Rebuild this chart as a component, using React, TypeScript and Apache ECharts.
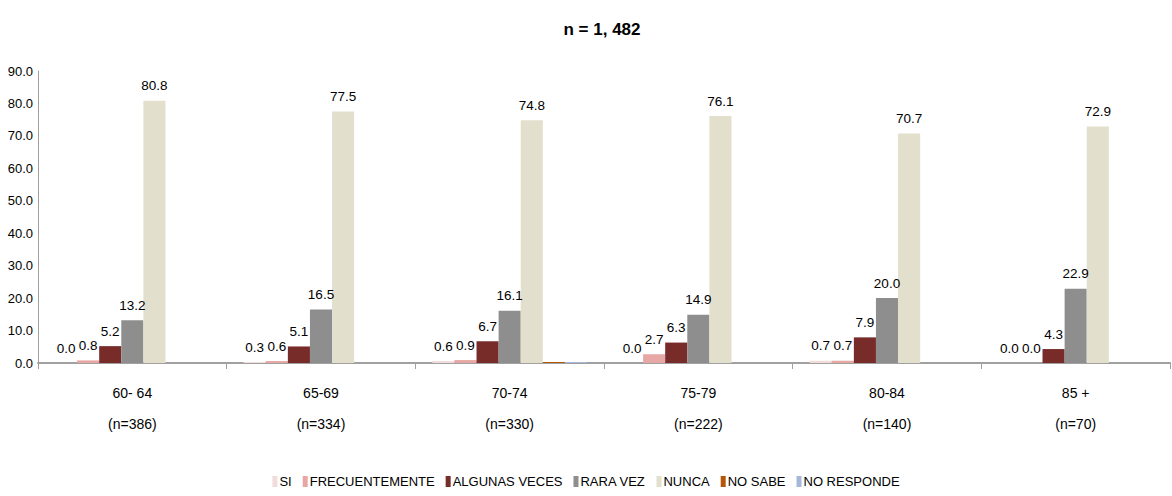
import React, { useEffect, useRef } from "react";
import * as echarts from "echarts";

const categories = ["60- 64\n(n=386)", "65-69\n(n=334)", "70-74\n(n=330)", "75-79\n(n=222)", "80-84\n(n=140)", "85 +\n(n=70)"];
const seriesNames = ["SI", "FRECUENTEMENTE", "ALGUNAS VECES", "RARA VEZ", "NUNCA", "NO SABE", "NO RESPONDE"];
const si = [0.0, 0.3, 0.6, 0.0, 0.7, 0.0];
const frecuentemente = [0.8, 0.6, 0.9, 2.7, 0.7, 0.0];
const algunasVeces = [5.2, 5.1, 6.7, 6.3, 7.9, 4.3];
const raraVez = [13.2, 16.5, 16.1, 14.9, 20.0, 22.9];
const nunca = [80.8, 77.5, 74.8, 76.1, 70.7, 72.9];
const noSabe = [0.0, 0.0, 0.3, 0.0, 0.0, 0.0];
const noResponde = [0.0, 0.0, 0.3, 0.0, 0.0, 0.0];
const seriesValues = [si, frecuentemente, algunasVeces, raraVez, nunca, noSabe, noResponde];
const colors = ["#F2DCDB", "#E6A7A5", "#772C2A", "#8E8E8E", "#E2DFCC", "#B65708", "#A5B8DA"];
const labeled = [true, true, true, true, true, false, false];

const FONT = "'Liberation Sans Narrow','Liberation Sans',Arial,sans-serif";

export default function App() {
  const ref = useRef<HTMLDivElement>(null);
  useEffect(() => {
    document.body.style.margin = "0";
    const chart = echarts.init(ref.current!, null, { renderer: "svg" });
    chart.setOption({
      animation: false,
      title: {
        text: "n = 1, 482",
        left: 597,
        top: 16,
        textAlign: "center",
        textStyle: { fontFamily: FONT, fontSize: 17, fontWeight: "bold", color: "#000" },
      },
      legend: {
        bottom: 3,
        left: "center",
        icon: "rect",
        itemWidth: 5,
        itemHeight: 11,
        itemGap: 11,
        textStyle: { fontFamily: FONT, fontSize: 13, color: "#000", padding: [0, 0, 0, -3] },
        data: seriesNames,
      },
      grid: { left: 38, right: 2, top: 71, bottom: 133, containLabel: false },
      xAxis: {
        type: "category",
        data: categories,
        axisLine: { lineStyle: { color: "#A0A0A0", width: 2 } },
        axisTick: { show: true, length: 6, lineStyle: { color: "#A0A0A0" } },
        axisLabel: { fontFamily: FONT, fontSize: 14, color: "#000", lineHeight: 31, margin: 14 },
      },
      yAxis: {
        type: "value",
        min: 0,
        max: 90,
        interval: 10,
        splitLine: { show: false },
        axisLine: { show: true, lineStyle: { color: "#A0A0A0", width: 1 } },
        axisTick: { show: false },
        axisLabel: {
          fontFamily: FONT,
          fontSize: 13,
          color: "#000",
          margin: 5,
          formatter: (v: number) => v.toFixed(1),
        },
      },
      series: seriesNames.map((name, i) => ({
        name,
        type: "bar",
        data: seriesValues[i],
        barGap: "0%",
        barCategoryGap: "18%",
        itemStyle: { color: colors[i] },
        label: {
          show: labeled[i],
          position: "top",
          distance: 8,
          fontFamily: FONT,
          fontSize: 13.5,
          color: "#000",
          formatter: (p: any) => Number(p.value).toFixed(1),
        },
      })),
    });
    return () => chart.dispose();
  }, []);
  return <div ref={ref} style={{ width: 1172, height: 496 }} />;
}
